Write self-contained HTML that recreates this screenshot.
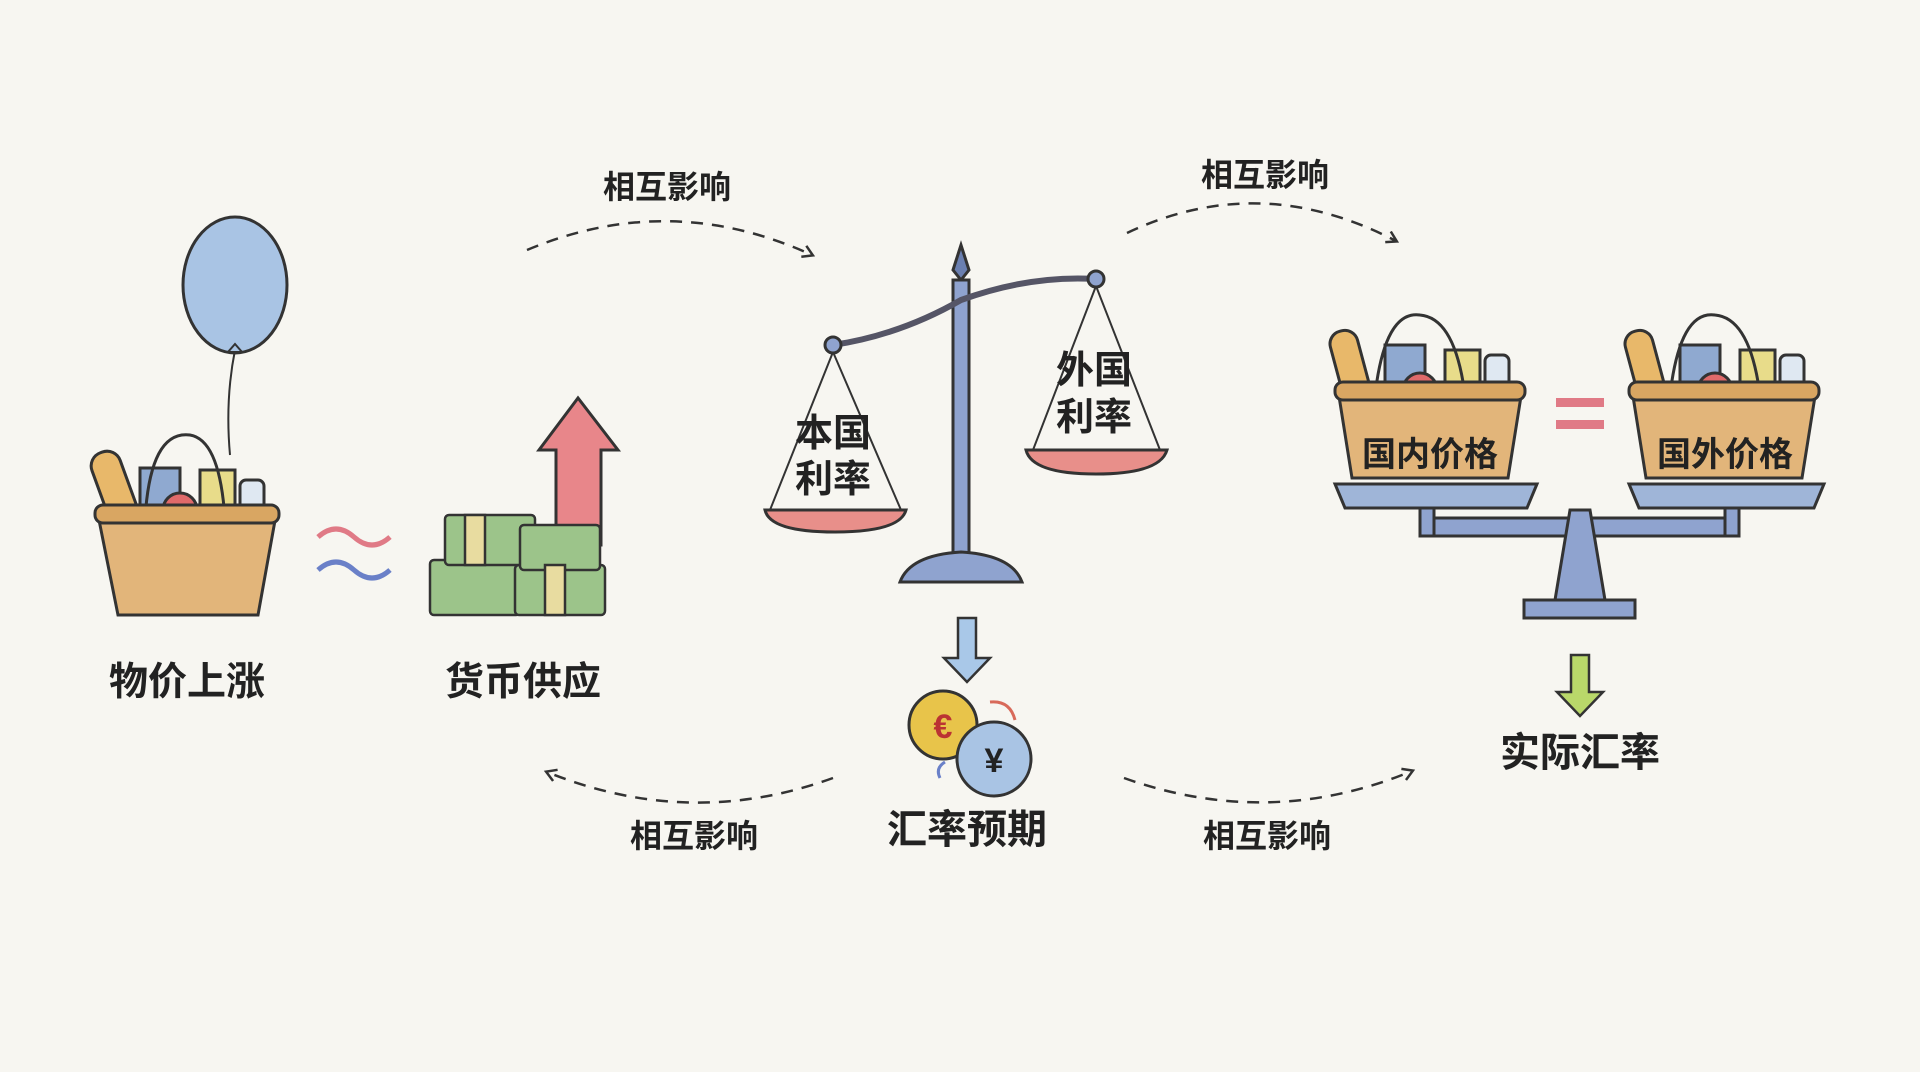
<!DOCTYPE html>
<html><head><meta charset="utf-8"><style>
html,body{margin:0;padding:0;background:#f7f6f1;}
svg{display:block}
text{font-family:"Liberation Sans","Noto Sans CJK SC",sans-serif;font-weight:bold;fill:#222;text-anchor:middle;}
</style></head><body>
<svg width="1920" height="1072" viewBox="0 0 1920 1072" xmlns="http://www.w3.org/2000/svg">
<rect width="1920" height="1072" fill="#f7f6f1"/>
<defs>
<marker id="ah" markerWidth="14" markerHeight="14" refX="10" refY="7" orient="auto" markerUnits="userSpaceOnUse"><path d="M1,1 L11,7 L1,13" fill="none" stroke="#333" stroke-width="2.5"/></marker>
</defs>
<g fill="none" stroke="#333" stroke-width="2.5" stroke-dasharray="12,9">
<path d="M527,250 Q670,190 812,255" marker-end="url(#ah)"/>
<path d="M1127,233 Q1260,170 1396,241" marker-end="url(#ah)"/>
<path d="M833,778 Q690,830 547,772" marker-end="url(#ah)"/>
<path d="M1124,778 Q1270,830 1412,771" marker-end="url(#ah)"/>
</g>
<g font-size="32">
<text x="667" y="198">相互影响</text>
<text x="1265" y="186">相互影响</text>
<text x="694" y="847">相互影响</text>
<text x="1267" y="847">相互影响</text>
</g>
<!-- balloon -->
<path d="M235,350 Q225,400 230,455" stroke="#333" stroke-width="2" fill="none"/>
<ellipse cx="235" cy="285" rx="52" ry="68" fill="#a9c4e4" stroke="#333" stroke-width="3"/>
<path d="M228,352 L242,352 L235,344Z" fill="#a9c4e4" stroke="#333" stroke-width="2"/>
<!-- left basket -->
<g stroke="#333" stroke-width="3">
<rect x="100" y="450" width="30" height="80" rx="14" fill="#e8b86a" transform="rotate(-20 115 490)"/>
<rect x="140" y="468" width="40" height="50" fill="#8fa9d0"/>
<rect x="200" y="470" width="35" height="45" fill="#e8dc8a"/>
<rect x="240" y="480" width="24" height="40" rx="6" fill="#dfe8f2"/>
<circle cx="180" cy="510" r="17" fill="#e06a6a"/>
<path d="M145,520 Q150,430 190,435 Q220,440 225,520" fill="none"/>
<path d="M98,515 L276,515 L258,615 L118,615 Z" fill="#e2b57a"/>
<rect x="95" y="505" width="184" height="18" rx="8" fill="#d9a662"/>
</g>
<text x="187" y="695" font-size="39">物价上涨</text>
<!-- approx -->
<path d="M318,537 q18,-16 36,0 t36,0" stroke="#e07a86" stroke-width="5" fill="none"/>
<path d="M318,570 q18,-16 36,0 t36,0" stroke="#6a80c8" stroke-width="5" fill="none"/>
<!-- money -->
<path d="M556,545 L556,450 L539,450 L578,398 L618,450 L601,450 L601,545Z" fill="#e8868a" stroke="#333" stroke-width="3"/>
<g stroke="#333" stroke-width="2.5" fill="#9cc48a">
<rect x="430" y="560" width="90" height="55" rx="4"/>
<rect x="515" y="565" width="90" height="50" rx="4"/>
<rect x="445" y="515" width="90" height="50" rx="4"/>
<rect x="520" y="525" width="80" height="45" rx="4"/>
<rect x="465" y="515" width="20" height="50" fill="#e8dca0"/>
<rect x="545" y="565" width="20" height="50" fill="#e8dca0"/>
</g>
<text x="523" y="695" font-size="39">货币供应</text>
<!-- center scale -->
<g stroke="#333" stroke-width="3">
<path d="M961,245 L953,270 L961,280 L969,270Z" fill="#6a7fb0"/>
<rect x="953" y="280" width="16" height="280" fill="#8fa3cf"/>
<path d="M833,345 Q900,335 961,300 Q1030,275 1096,279" fill="none" stroke-width="6" stroke="#556"/>
<circle cx="833" cy="345" r="8" fill="#8fa3cf"/>
<circle cx="1096" cy="279" r="8" fill="#8fa3cf"/>
<path d="M900,582 Q910,555 961,552 Q1012,555 1022,582Z" fill="#8fa3cf"/>
<path d="M833,352 L770,510 M833,352 L901,510 M1096,286 L1033,450 M1096,286 L1160,450" stroke-width="2" fill="none"/>
<path d="M765,510 L906,510 Q900,532 835,532 Q770,532 765,510Z" fill="#e88f8a"/>
<path d="M1026,450 L1167,450 Q1160,474 1096,474 Q1032,474 1026,450Z" fill="#e88f8a"/>
</g>
<g font-size="38"><text x="833" y="446">本国</text><text x="833" y="492">利率</text>
<text x="1094" y="383">外国</text><text x="1094" y="430">利率</text></g>
<path d="M958,618 L958,658 L944,658 L967,682 L990,658 L976,658 L976,618Z" fill="#a9c8e8" stroke="#333" stroke-width="2.5"/>
<circle cx="943" cy="725" r="34" fill="#e8c44a" stroke="#333" stroke-width="3"/>
<text x="943" y="738" font-size="34" style="fill:#b33">€</text>
<circle cx="994" cy="759" r="37" fill="#a9c4e4" stroke="#333" stroke-width="3"/>
<text x="994" y="772" font-size="34">¥</text>
<path d="M990,702 Q1010,700 1015,720" stroke="#d86a5a" stroke-width="3" fill="none"/>
<path d="M940,778 Q935,768 945,762" stroke="#6a80c8" stroke-width="3" fill="none"/>
<text x="967" y="843" font-size="40">汇率预期</text>
<!-- right -->
<g stroke="#333" stroke-width="3">
<rect x="1337" y="330" width="28" height="80" rx="13" fill="#e8b86a" transform="rotate(-15 1350 370)"/>
<rect x="1385" y="345" width="40" height="45" fill="#8fa9d0"/>
<rect x="1445" y="350" width="35" height="45" fill="#e8dc8a"/>
<rect x="1485" y="355" width="24" height="38" rx="6" fill="#dfe8f2"/>
<circle cx="1420" cy="390" r="17" fill="#e06a6a"/>
<path d="M1375,395 Q1385,310 1420,315 Q1455,318 1465,395" fill="none"/>
<path d="M1338,390 L1522,390 L1508,478 L1352,478Z" fill="#e2b57a"/>
<rect x="1335" y="382" width="190" height="18" rx="8" fill="#d9a662"/>
<rect x="1632" y="330" width="28" height="80" rx="13" fill="#e8b86a" transform="rotate(-15 1645 370)"/>
<rect x="1680" y="345" width="40" height="45" fill="#8fa9d0"/>
<rect x="1740" y="350" width="35" height="45" fill="#e8dc8a"/>
<rect x="1780" y="355" width="24" height="38" rx="6" fill="#dfe8f2"/>
<circle cx="1715" cy="390" r="17" fill="#e06a6a"/>
<path d="M1670,395 Q1680,310 1715,315 Q1750,318 1760,395" fill="none"/>
<path d="M1632,390 L1816,390 L1802,478 L1646,478Z" fill="#e2b57a"/>
<rect x="1629" y="382" width="190" height="18" rx="8" fill="#d9a662"/>
<path d="M1335,484 L1537,484 L1527,508 L1345,508Z" fill="#9fb5d8"/>
<path d="M1629,484 L1824,484 L1814,508 L1639,508Z" fill="#9fb5d8"/>
<rect x="1420" y="518" width="319" height="18" fill="#8fa3cf"/>
<rect x="1420" y="508" width="14" height="28" fill="#8fa3cf"/>
<rect x="1725" y="508" width="14" height="28" fill="#8fa3cf"/>
<path d="M1555,600 L1570,510 L1590,510 L1605,600Z" fill="#8fa3cf"/>
<rect x="1524" y="600" width="111" height="18" fill="#8fa3cf"/>
</g>
<rect x="1556" y="398" width="48" height="9" fill="#e07a86"/>
<rect x="1556" y="420" width="48" height="9" fill="#e07a86"/>
<g font-size="34"><text x="1430" y="466">国内价格</text><text x="1725" y="466">国外价格</text></g>
<path d="M1571,655 L1571,692 L1557,692 L1580,716 L1603,692 L1589,692 L1589,655Z" fill="#b9d86a" stroke="#333" stroke-width="2.5"/>
<text x="1580" y="766" font-size="40">实际汇率</text>
</svg>
</body></html>
